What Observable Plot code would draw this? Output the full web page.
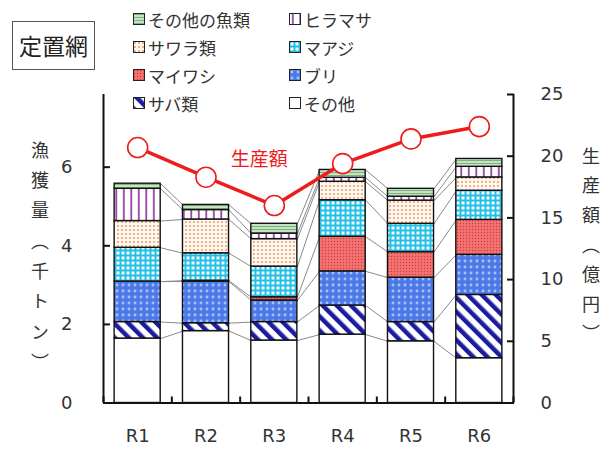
<!DOCTYPE html>
<html><head><meta charset="utf-8">
<script src="https://cdn.jsdelivr.net/npm/d3@7"></script>
<script src="https://cdn.jsdelivr.net/npm/@observablehq/plot@0.6"></script>
<style>
body{margin:0;background:#fff;}
#wrap{position:relative;width:611px;height:449px;overflow:hidden;font-family:"Noto Sans CJK JP",sans-serif;color:#333;}
#chart{position:absolute;left:0;top:0;}
#titlebox{position:absolute;left:12px;top:21px;width:83px;height:49px;box-sizing:border-box;border:1px solid #555;font-size:23px;line-height:47px;text-align:center;color:#222;}
#legend{position:absolute;left:133px;top:5px;display:grid;grid-template-columns:156px auto;grid-auto-rows:28px;font-size:17px;}
#legend .item{display:flex;align-items:center;white-space:nowrap;}
#legend svg{margin-right:3px;}
.vtitle{position:absolute;writing-mode:vertical-rl;font-size:18px;color:#333;}
</style></head>
<body>
<svg width="0" height="0" style="position:absolute">
<defs>
<pattern id="p0" patternUnits="userSpaceOnUse" width="4" height="4"><rect width="4" height="4" fill="#fff"/></pattern>
<pattern id="p1" patternUnits="userSpaceOnUse" width="10" height="10" patternTransform="rotate(-45)"><rect width="10" height="10" fill="#fff"/><rect width="4.5" height="10" fill="#1c1ca0"/></pattern>
<pattern id="p2" patternUnits="userSpaceOnUse" width="6" height="6"><rect width="6" height="6" fill="#4f7be8"/><circle cx="3" cy="3" r="1.4" fill="#a9c1f8"/><circle cx="0" cy="0" r="0.8" fill="#3058c8"/><circle cx="6" cy="6" r="0.8" fill="#3058c8"/></pattern>
<pattern id="p3" patternUnits="userSpaceOnUse" width="3" height="3"><rect width="3" height="3" fill="#f47272"/><circle cx="1.5" cy="1.5" r="0.7" fill="#c83c3c"/></pattern>
<pattern id="p4" patternUnits="userSpaceOnUse" width="5" height="5"><rect width="5" height="5" fill="#1ec0e8"/><rect x="1.5" y="1.5" width="3" height="3" fill="#fff"/></pattern>
<pattern id="p5" patternUnits="userSpaceOnUse" width="4" height="4"><rect width="4" height="4" fill="#fff8f0"/><circle cx="2" cy="2" r="0.9" fill="#f0905a"/></pattern>
<pattern id="p6" patternUnits="userSpaceOnUse" width="7.5" height="4"><rect width="7.5" height="4" fill="#fff"/><rect x="3" width="1.6" height="4" fill="#8b2c9e"/></pattern>
<pattern id="p7" patternUnits="userSpaceOnUse" width="4" height="3"><rect width="4" height="3" fill="#c4e4c4"/><rect y="1" width="4" height="1" fill="#7fb07f"/></pattern>
</defs>
</svg>
<div id="wrap">
<div id="chart"></div>
<div id="titlebox">定置網</div>
<div id="legend"></div>
<div class="vtitle" id="ltitle" style="left:27px;top:141px;letter-spacing:12.3px;">漁獲量（千トン）</div>
<div class="vtitle" id="rtitle" style="left:578px;top:147px;letter-spacing:11.6px;">生産額（億円）</div>
</div>
<script>
// ---- data ----
const years = ["R1","R2","R3","R4","R5","R6"];
const series = ["その他","サバ類","ブリ","マイワシ","マアジ","サワラ類","ヒラマサ","その他の魚類"];
const sonota    = [1.64,1.83,1.59,1.74,1.57,1.14];
const saba      = [0.42,0.20,0.47,0.74,0.49,1.61];
const buri      = [1.03,1.06,0.55,0.87,1.13,1.02];
const maiwashi  = [0.00,0.02,0.08,0.88,0.65,0.89];
const maaji     = [0.86,0.70,0.78,0.93,0.72,0.74];
const sawara    = [0.68,0.86,0.70,0.47,0.59,0.34];
const hiramasa  = [0.82,0.24,0.14,0.10,0.10,0.27];
const otherFish = [0.13,0.13,0.25,0.20,0.20,0.20];
const productionValue = [20.7,18.3,16.0,19.4,21.4,22.4]; // 億円
const leftTicks = [0,2,4,6];
const rightTicks = [0,5,10,15,20,25];
const legendOrder = ["その他の魚類","ヒラマサ","サワラ類","マアジ","マイワシ","ブリ","サバ類","その他"];

const seriesValues = [sonota,saba,buri,maiwashi,maaji,sawara,hiramasa,otherFish];
const patterns = series.map((s,i)=>`url(#p${i})`);

const yMax = 7.85;          // left axis top
const rMax = 25;            // right axis top
const k = yMax / rMax;      // right -> left units
const half = 0.337;         // half bar width in band units

// long table
const rows = [];
years.forEach((yr,i)=>series.forEach((s,j)=>rows.push({i:i+1, series:s, value:seriesValues[j][i]})));

// cumulative boundaries for connector lines
const cum = series.map((s,j)=>years.map((yr,i)=>d3.sum(seriesValues.slice(0,j+1),a=>a[i])));
const links = [];
cum.forEach(c=>{ for(let i=0;i<years.length-1;i++) links.push({a:i+1, b:i+2, ya:c[i], yb:c[i+1]}); });

const line = years.map((yr,i)=>({i:i+1, v:productionValue[i]}));
const bounds = d3.range(years.length+1).map(i=>i+0.5);

const plot = Plot.plot({
  width:611, height:449,
  marginLeft:103, marginRight:98, marginTop:94, marginBottom:46.5,
  style:{fontFamily:"'DejaVu Sans','Noto Sans CJK JP',sans-serif", fontSize:"18px", color:"#333", background:"transparent"},
  x:{domain:[0.5, years.length+0.5]},
  y:{domain:[0,yMax]},
  color:{type:"ordinal", domain:series, range:patterns},
  marks:[
    Plot.link(links,{x1:d=>d.a+half, y1:"ya", x2:d=>d.b-half, y2:"yb", stroke:"#8a8a8a", strokeWidth:1}),
    Plot.rectY(rows, Plot.stackY({x1:d=>d.i-half, x2:d=>d.i+half, y:"value", fill:"series", stroke:"#111", strokeWidth:1.4})),
    Plot.ruleX([bounds[0], bounds[bounds.length-1]], {stroke:"#111", strokeWidth:2}),
    Plot.ruleY([0], {stroke:"#111", strokeWidth:2}),
    Plot.axisY({anchor:"left", ticks:leftTicks, tickSize:-7, tickPadding:38, strokeWidth:2, stroke:"#111", label:null}),
    Plot.axisY({anchor:"right", ticks:rightTicks.map(t=>t*k), tickFormat:d=>String(Math.round(d/k)), tickSize:-7, tickPadding:34, strokeWidth:2, stroke:"#111", label:null}),
    Plot.axisX({ticks:bounds, tickSize:-6, tickFormat:()=>"", strokeWidth:2, stroke:"#111", label:null}),
    Plot.axisX({ticks:years.map((y,i)=>i+1), tickSize:0, tickPadding:26, tickFormat:d=>years[d-1], label:null}),
    Plot.line(line,{x:"i", y:d=>d.v*k, stroke:"#ee1c1c", strokeWidth:3.5}),
    Plot.dot(line,{x:"i", y:d=>d.v*k, r:10, fill:"#fff", stroke:"#ee1c1c", strokeWidth:1.6}),
    Plot.text([line[2]],{x:"i", y:d=>d.v*k, text:()=>"生産額", dx:-15, dy:-46, fill:"#ee1c1c", fontSize:19, fontFamily:"'Noto Sans CJK JP',sans-serif"})
  ]
});
document.getElementById("chart").appendChild(plot);

// legend
const lg = document.getElementById("legend");
legendOrder.forEach(name=>{
  const idx = series.indexOf(name);
  const it = document.createElement("div");
  it.className="item";
  it.innerHTML = `<svg width="12" height="12"><rect x="0.5" y="0.5" width="11" height="11" fill="${patterns[idx]}" stroke="#222" stroke-width="1"/></svg><span>${name}</span>`;
  lg.appendChild(it);
});
</script>
</body></html>
